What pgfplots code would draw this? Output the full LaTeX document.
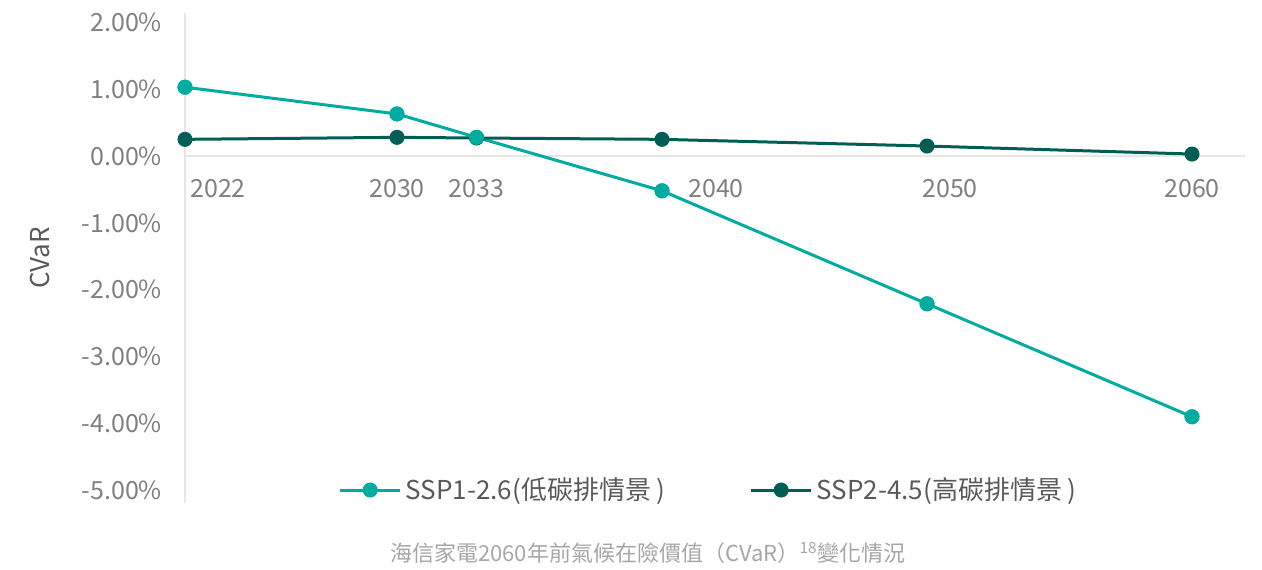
\documentclass[border=0pt]{standalone}
\usepackage{pgfplots}
\pgfplotsset{compat=1.18}
\usepackage{fontspec}
\setmainfont{Noto Sans CJK TC}
\definecolor{tealA}{RGB}{0,171,159}
\definecolor{darkA}{RGB}{0,94,85}
\definecolor{tickgray}{RGB}{128,128,128}
\definecolor{axgray}{RGB}{230,230,230}
\definecolor{capgray}{RGB}{166,166,166}
\definecolor{labgray}{RGB}{89,89,89}
\begin{document}
\begin{tikzpicture}
\begin{axis}[
  at={(92.5pt,33pt)}, anchor=south west,
  scale only axis, width=530pt, height=245pt,
  xmin=2022, xmax=2062, ymin=-5.19, ymax=2.14,
  axis y line=left, axis x line=middle,
  axis line style={-, axgray, line width=0.8pt},
  major tick length=0pt,
  clip=false,
  ytick={-5,-4,-3,-2,-1,0,1,2},
  yticklabels={-5.00\%,-4.00\%,-3.00\%,-2.00\%,-1.00\%,0.00\%,1.00\%,2.00\%},
  xtick={2023.25,2030,2033,2042.04,2050.87,2060},
  xticklabels={2022,2030,2033,2040,2050,2060},
  ticklabel style={font=\fontsize{12.5}{14}\selectfont, text=tickgray},
  yticklabel style={xshift=-8pt},
  xticklabel style={yshift=-8pt},
  ylabel={CVaR},
  ylabel style={at={(axis description cs:-0.1368,0.5)}, anchor=center, font=\fontsize{13}{15}\selectfont, text=labgray},
  legend style={draw=none, fill=none, at={(0.495,0.0265)}, anchor=center,
    legend columns=2, font=\fontsize{13}{15}\selectfont, text=labgray,
    /tikz/every even column/.append style={column sep=40pt}},
  legend image code/.code={\draw[mark repeat=2,mark phase=2,#1] plot coordinates {(0pt,0pt) (15pt,0pt) (30pt,0pt)};},
]
\addplot[tealA, line width=1.5pt, mark=*, mark size=3pt, mark options={fill=tealA, draw=tealA}]
  coordinates {(2022,1.03) (2030,0.63) (2033,0.28) (2040,-0.52) (2050,-2.21) (2060,-3.90)};
\addlegendentry{SSP1-2.6(低碳排情景 )}
\addplot[darkA, line width=1.5pt, mark=*, mark size=3pt, mark options={fill=darkA, draw=darkA}]
  coordinates {(2022,0.25) (2030,0.28) (2033,0.27) (2040,0.25) (2050,0.15) (2060,0.03)};
\addlegendentry{SSP2-4.5(高碳排情景 )}
\addplot[forget plot, only marks, line width=1.5pt, mark=*, mark size=3pt, mark options={fill=tealA, draw=tealA}]
  coordinates {(2022,1.03) (2030,0.63) (2033,0.28) (2040,-0.52) (2050,-2.21) (2060,-3.90)};
\end{axis}
\pgfresetboundingbox
\path[use as bounding box] (0,0) rectangle (631pt,284.5pt);
\node[text=capgray, font=\fontsize{11}{13}\selectfont] at (324pt,8pt) {海信家電2060年前氣候在險價值（CVaR）\textsuperscript{18}變化情況};
\end{tikzpicture}
\end{document}
